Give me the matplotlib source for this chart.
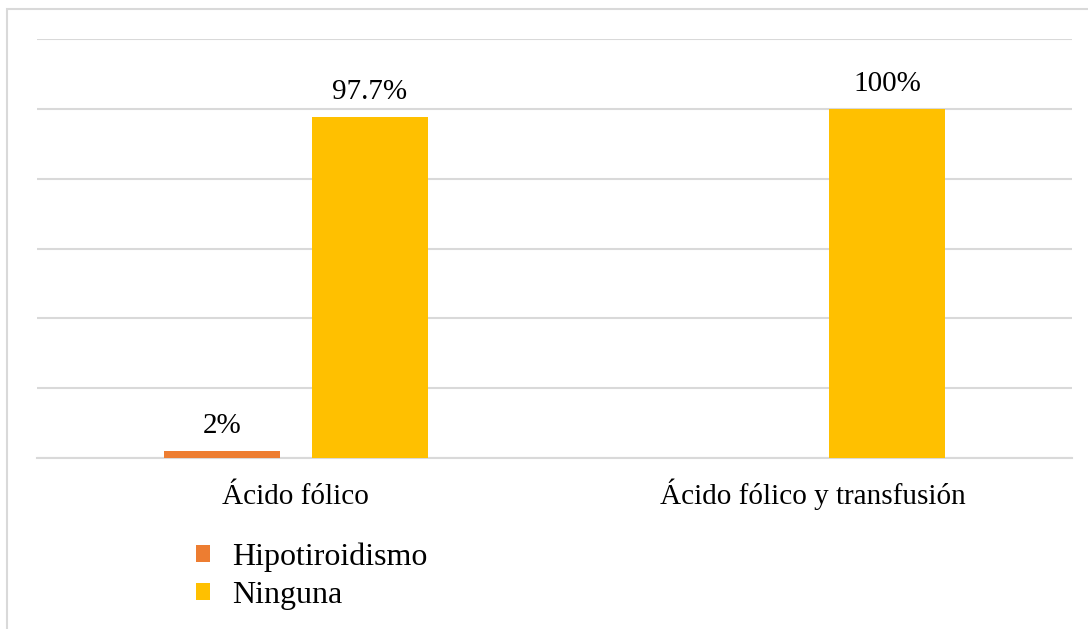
import matplotlib.pyplot as plt
from matplotlib.patches import Rectangle
import numpy as np

categories = ["Ácido fólico", "Ácido fólico y transfusión"]
series_names = ["Hipotiroidismo", "Ninguna"]
hipotiroidismo = [2, 0]
ninguna = [97.7, 100]
labels_hipo = ["2%", None]
labels_ninguna = ["97.7%", "100%"]

COLORS = ["#ED7D31", "#FFC000"]
GRID_COLOR = "#D9D9D9"

plt.rcParams["font.family"] = ["Liberation Serif", "DejaVu Serif"]

fig = plt.figure(figsize=(10.88, 6.29), dpi=100)
ax = fig.add_axes([37 / 1088, 1 - 458 / 629, 1035 / 1088, 419 / 629])

x = np.arange(len(categories))
width = 0.224
offset = 0.143

bars_h = ax.bar(x - offset, hipotiroidismo, width, color=COLORS[0], label=series_names[0], zorder=3)
bars_n = ax.bar(x + offset, ninguna, width, color=COLORS[1], label=series_names[1], zorder=3)

for bars, labels in ((bars_h, labels_hipo), (bars_n, labels_ninguna)):
    for bar, text in zip(bars, labels):
        if text is None:
            continue
        ax.annotate(text, (bar.get_x() + bar.get_width() / 2, bar.get_height()),
                    xytext=(0, 18), textcoords="offset pixels",
                    ha="center", va="baseline", fontsize=21)

ax.set_xlim(-0.5, 1.5)
ax.set_ylim(0, 120)
ax.set_yticks(np.arange(0, 121, 20))
ax.yaxis.grid(True, color=GRID_COLOR, linewidth=1.5, zorder=0)
ax.tick_params(axis="y", left=False, labelleft=False)
ax.tick_params(axis="x", bottom=False, length=0, labelsize=21, pad=33)
ax.set_xticks(x)
ax.set_xticklabels(categories)
for lbl in ax.get_xticklabels():
    lbl.set_verticalalignment("baseline")
for side in ("top", "right", "left"):
    ax.spines[side].set_visible(False)
ax.spines["bottom"].set_color(GRID_COLOR)
ax.spines["bottom"].set_linewidth(1.5)

fig.legend(handles=[bars_h, bars_n], labels=series_names, loc="upper left",
           bbox_to_anchor=(170 / 1088, 1 - 517 / 629), frameon=False,
           fontsize=23, handlelength=0.45, handleheight=0.45, handletextpad=0.7,
           labelspacing=0.28, borderpad=0.3)

# light frame around the chart area
fig.add_artist(Rectangle((7 / 1088, -0.1), 1.2, 1 - 9 / 629 + 0.1, transform=fig.transFigure,
                         fill=False, edgecolor=GRID_COLOR, linewidth=1.5))

fig.savefig("out.png", dpi=100)
